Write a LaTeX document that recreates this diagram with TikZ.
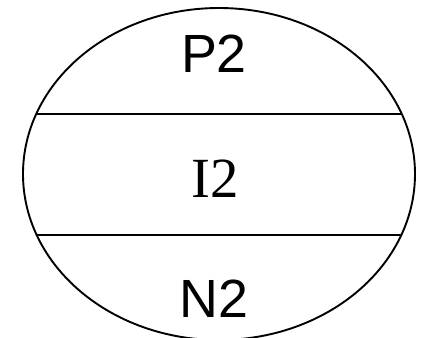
\documentclass[tikz,border=0pt]{standalone}
\usepackage{fontspec}
\setmainfont{Liberation Sans}
\newfontfamily\serifface{Liberation Serif}
\begin{document}
\begin{tikzpicture}[x=1bp,y=-1bp,
  outline/.style={line width=1.9bp,black},
  label/.style={inner sep=0pt,anchor=base,font=\fontsize{54}{54}\selectfont}]
\useasboundingbox (0,0) rectangle (422,338);
% outer ellipse, clipped by the page at the bottom
\draw[outline] (219,174) ellipse [x radius=196, y radius=166];
% dividing lines between the three bands
\coordinate (a1) at (35.9,114);
\coordinate (a2) at (402.1,114);
\coordinate (b1) at (35.9,235);
\coordinate (b2) at (402.1,235);
\draw[outline] (a1) -- (a2);
\draw[outline] (b1) -- (b2);
% band labels
\node[label] (p2) at (214,72) {P2};
\node[label,font=\fontsize{57}{57}\serifface] (i2) at (215,197) {I2};
\node[label] (n2) at (214,317) {N2};
\end{tikzpicture}
\end{document}
